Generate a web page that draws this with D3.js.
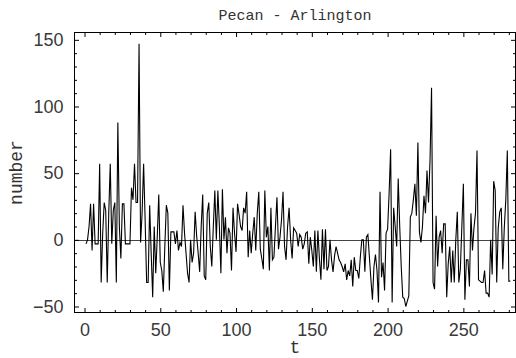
<!DOCTYPE html>
<html><head><meta charset="utf-8">
<script src="https://cdn.jsdelivr.net/npm/d3@7"></script>
<style>body{margin:0;background:#fff;} svg{display:block;}</style>
</head><body>
<svg id="chart" width="516" height="358"></svg>
<script>
const title = "Pecan - Arlington";
const xLabel = "t";
const yLabel = "number";
const values = [
  -3, 0, 10, 27, -8, 27, -3, -3, -3, 57,
  -32, 5, 28, 22, -32, 20, 57, -3, 22, 28,
  -32, 88, 10, -14, 27, 27, -3, -3, -3, -3,
  39, 30, 57, 28, 28, 147, -2, 20, 57, 15,
  -32, -32, 26, -10, -43, 10, -25, 2, 34, -17,
  -23, -39, -5, 26, 20, -38, 6, 6, 6, -3,
  7, -8, -2, -5, 26, 5, -10, -25, -32, 0,
  -17, -10, 21, 3, -10, -24, 10, 34, -27, -30,
  20, 28, -5, -20, 10, 37, 0, 37, 10, -25,
  38, 0, 17, -10, 9, 5, -23, 24, 5, -9,
  27, 19, 10, 7, 24, 20, 36, -13, 7, -10,
  5, 17, -8, 20, 36, -7, -14, -22, 37, 2,
  10, -23, 24, -15, -13, 10, 32, -7, 2, 15,
  36, -5, -15, 10, 24, 0, -14, 9, 7, 5,
  -5, 4, 2, -7, -3, 5, 6, -18, 2, -8,
  -20, 7, -24, 7, -14, -30, 8, -22, 8, -23,
  -20, 0, -15, -24, -12, -5, -10, -15, -17, -20,
  -24, -18, -30, -23, -27, -15, -35, -13, -23, -23,
  -29, -13, 0, 0, -24, 2, 4, -13, -30, -45,
  -20, -11, -23, -47, 36, -28, -17, -38, 5, 8,
  35, 68, -47, 24, 10, -5, 46, 10, -20, -43,
  -44, -50, -46, -42, 17, 20, 30, 42, 18, 73,
  6, -2, 10, 33, 20, 52, 28, 60, 114, -32,
  -37, 18, -20, 2, 7, -10, 12, 12, -43, -18,
  -5, -32, -8, -32, 0, 21, -32, -22, 10, 42,
  -45, -15, -15, -35, 20, -8, 9, 20, 67, -30,
  -31, -32, -32, -23, -40, -40, -43, 0, -26, 44,
  37, -32, 9, 21, 24, -22, 9, 30, 67, -31, -31
];
const xMajorTicks = [0, 50, 100, 150, 200, 250];
const yMajorTicks = [-50, 0, 50, 100, 150];
const xMinorTicks = d3.range(0, 290, 10).filter(v => v % 50 !== 0);
const yMinorTicks = d3.range(-50, 160, 10).filter(v => v % 50 !== 0);

const svg = d3.select("#chart");
const pLeft = 74.5, pRight = 515.5, pTop = 32.5, pBottom = 312.5;
const x = d3.scaleLinear().domain([-6.6, 284.4]).range([pLeft, pRight]);
const y = d3.scaleLinear().domain([-54.5, 155.5]).range([pBottom, pTop]);

const data = values.map((v, i) => ({t: i + 1, v}));

// zero axis
svg.append("line")
  .attr("x1", pLeft).attr("x2", pRight)
  .attr("y1", Math.round(y(0)) + 0.5).attr("y2", Math.round(y(0)) + 0.5)
  .attr("stroke", "#444").attr("stroke-width", 1);

// series
svg.append("path")
  .datum(data)
  .attr("fill", "none")
  .attr("stroke", "#000")
  .attr("stroke-width", 1.1)
  .attr("d", d3.line().x(d => x(d.t)).y(d => y(d.v)));

const tickFont = "'Liberation Sans', Arial, sans-serif";
function styleAxis(g) {
  g.select(".domain").remove();
  g.selectAll("line").attr("stroke", "#000").attr("stroke-width", 1);
  g.selectAll("text").attr("font-family", tickFont).attr("font-size", 18).attr("fill", "#3a3a3a");
}
const fmt = d3.format("d");
// bottom
svg.append("g").attr("transform", `translate(0,${pBottom})`)
  .call(d3.axisBottom(x).tickValues(xMajorTicks).tickSizeInner(-4.5).tickSizeOuter(0).tickPadding(11).tickFormat(fmt)).call(styleAxis);
svg.append("g").attr("transform", `translate(0,${pBottom})`)
  .call(d3.axisBottom(x).tickValues(xMinorTicks).tickSizeInner(-2.5).tickSizeOuter(0).tickFormat("")).call(styleAxis);
// top
svg.append("g").attr("transform", `translate(0,${pTop})`)
  .call(d3.axisTop(x).tickValues(xMajorTicks).tickSizeInner(-4.5).tickSizeOuter(0).tickFormat("")).call(styleAxis);
svg.append("g").attr("transform", `translate(0,${pTop})`)
  .call(d3.axisTop(x).tickValues(xMinorTicks).tickSizeInner(-2.5).tickSizeOuter(0).tickFormat("")).call(styleAxis);
// left
svg.append("g").attr("transform", `translate(${pLeft},0)`)
  .call(d3.axisLeft(y).tickValues(yMajorTicks).tickSizeInner(-4.5).tickSizeOuter(0).tickPadding(11).tickFormat(fmt)).call(styleAxis);
svg.append("g").attr("transform", `translate(${pLeft},0)`)
  .call(d3.axisLeft(y).tickValues(yMinorTicks).tickSizeInner(-2.5).tickSizeOuter(0).tickFormat("")).call(styleAxis);
// right
svg.append("g").attr("transform", `translate(${pRight},0)`)
  .call(d3.axisRight(y).tickValues(yMajorTicks).tickSizeInner(-4.5).tickSizeOuter(0).tickFormat("")).call(styleAxis);
svg.append("g").attr("transform", `translate(${pRight},0)`)
  .call(d3.axisRight(y).tickValues(yMinorTicks).tickSizeInner(-2.5).tickSizeOuter(0).tickFormat("")).call(styleAxis);

// frame
svg.append("rect")
  .attr("x", pLeft).attr("y", pTop)
  .attr("width", pRight - pLeft).attr("height", pBottom - pTop)
  .attr("fill", "none").attr("stroke", "#000").attr("stroke-width", 1);

const labelFont = "'Liberation Mono', 'Courier New', monospace";
svg.append("text")
  .attr("x", (pLeft + pRight) / 2).attr("y", 20)
  .attr("text-anchor", "middle")
  .attr("font-family", labelFont).attr("font-size", 15).attr("fill", "#333")
  .text(title);
svg.append("text")
  .attr("x", (pLeft + pRight) / 2).attr("y", 353)
  .attr("text-anchor", "middle")
  .attr("font-family", labelFont).attr("font-size", 18).attr("fill", "#333")
  .text(xLabel);
svg.append("text")
  .attr("transform", `translate(22,${(pTop + pBottom) / 2}) rotate(-90)`)
  .attr("text-anchor", "middle")
  .attr("font-family", labelFont).attr("font-size", 18).attr("fill", "#333")
  .text(yLabel);
</script>
</body></html>
